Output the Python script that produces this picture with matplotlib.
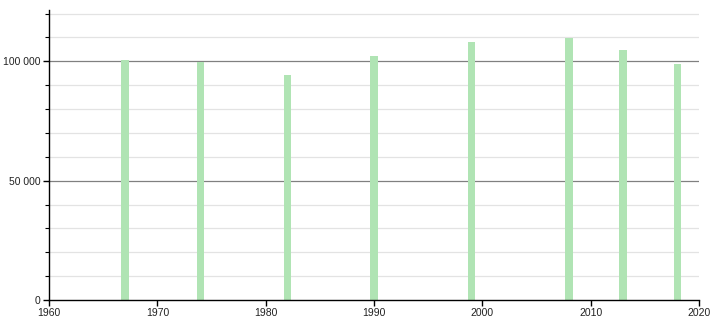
import matplotlib.pyplot as plt
from matplotlib.ticker import MultipleLocator, FuncFormatter

# census years and population
years = [1967, 1974, 1982, 1990, 1999, 2008, 2013, 2018]
population = [100400, 99800, 94100, 102100, 107900, 109900, 104600, 98700]

x_ticks = [1960, 1970, 1980, 1990, 2000, 2010, 2020]

plt.rcParams['font.family'] = ['Liberation Sans', 'DejaVu Sans']

fig = plt.figure(figsize=(7.1, 3.2), dpi=100)
ax = fig.add_axes([49 / 710, 20 / 320, 650 / 710, 290 / 320])

# grid: light minor lines every 10 000, darker major every 50 000
for v in range(10000, 130000, 10000):
    if v % 50000 == 0:
        ax.axhline(v, color="#808080", lw=0.9, zorder=1)
    else:
        ax.axhline(v, color="#e3e3e3", lw=0.9, zorder=1)

ax.bar(years, population, width=0.7, color="#b0e4b4", zorder=2)

ax.set_xlim(1960, 2020)
ax.set_ylim(0, 121500)
ax.set_xticks(x_ticks)
ax.yaxis.set_major_locator(MultipleLocator(50000))
ax.yaxis.set_minor_locator(MultipleLocator(10000))
ax.yaxis.set_major_formatter(FuncFormatter(lambda v, p: f"{int(v):,}".replace(",", " ")))

for s in ["top", "right"]:
    ax.spines[s].set_visible(False)
ax.spines["left"].set_linewidth(1.0)
ax.spines["bottom"].set_linewidth(1.0)

ax.tick_params(axis="both", which="major", length=4, width=1, labelsize=7.5,
               labelcolor="#222222", pad=2)
ax.tick_params(axis="y", which="minor", length=3, width=0.8)

fig.savefig("out.png", dpi=100)
